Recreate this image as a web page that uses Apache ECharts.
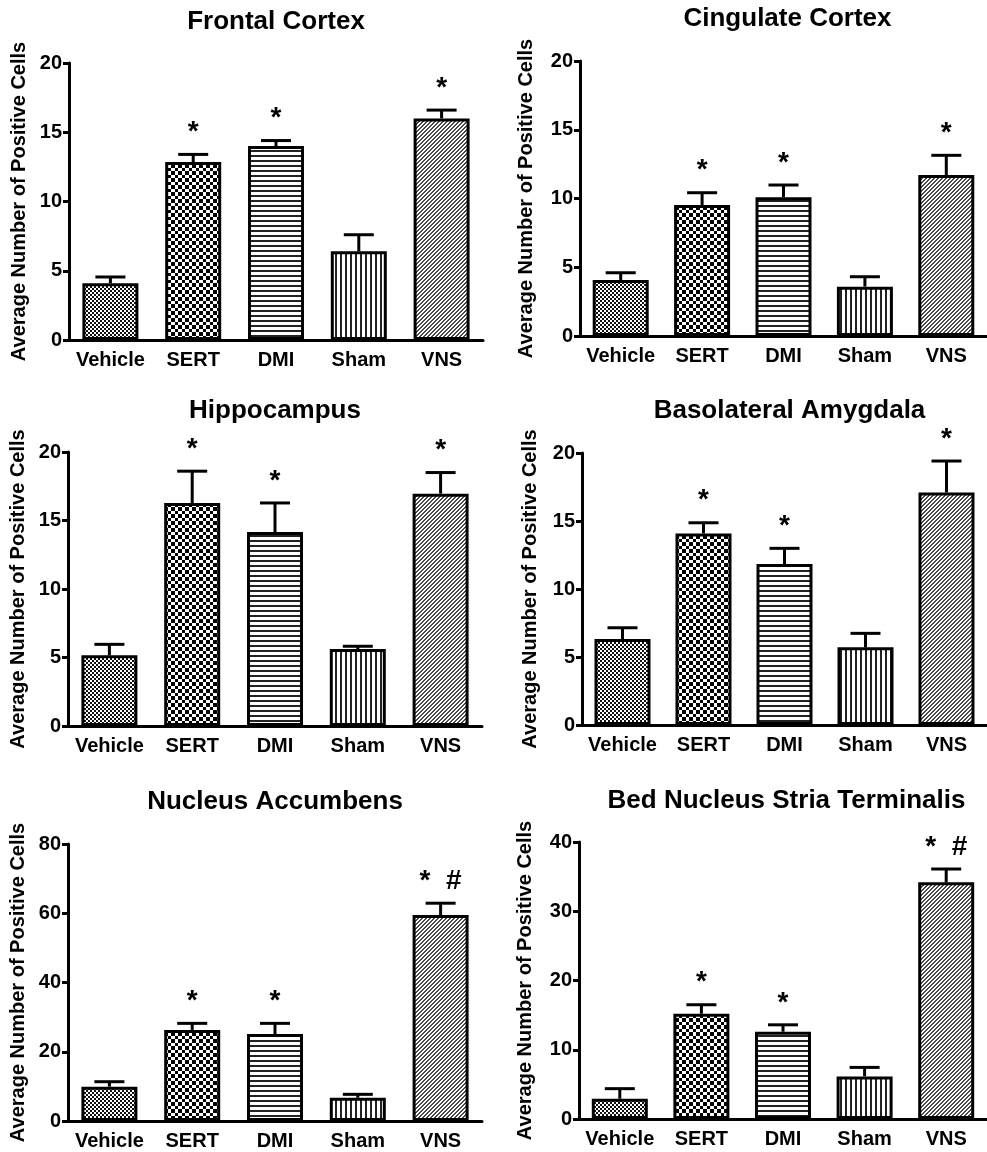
<!DOCTYPE html>
<html><head><meta charset="utf-8">
<script src="https://cdn.jsdelivr.net/npm/echarts@6/dist/echarts.min.js"></script>
<style>html,body{margin:0;padding:0;background:#fff}#c{width:987px;height:1152px}</style>
</head><body><div id="c"></div>
<script>
// ---- data ----
const categories = ['Vehicle', 'SERT', 'DMI', 'Sham', 'VNS'];
const panelTitles = ['Frontal Cortex', 'Cingulate Cortex', 'Hippocampus', 'Basolateral Amygdala', 'Nucleus Accumbens', 'Bed Nucleus Stria Terminalis'];
const yAxisName = 'Average Number of Positive Cells';

const frontalMean = [4.1, 12.85, 14.0, 6.4, 16.0];
const frontalSem  = [0.45, 0.55, 0.4, 1.2, 0.6];
const frontalSig  = ['', '*', '*', '', '*'];

const cingulateMean = [4.07, 9.53, 10.09, 3.59, 11.71];
const cingulateSem  = [0.53, 0.89, 0.89, 0.72, 1.43];
const cingulateSig  = ['', '*', '*', '', '*'];

const hippocampusMean = [5.16, 16.28, 14.16, 5.62, 16.96];
const hippocampusSem  = [0.8, 2.32, 2.12, 0.2, 1.54];
const hippocampusSig  = ['', '*', '*', '', '*'];

const basolateralMean = [6.32, 14.09, 11.84, 5.71, 17.1];
const basolateralSem  = [0.83, 0.78, 1.15, 1.03, 2.31];
const basolateralSig  = ['', '*', '*', '', '*'];

const accumbensMean = [9.9, 26.3, 25.1, 6.7, 59.5];
const accumbensSem  = [1.45, 1.9, 3.1, 1.0, 3.4];
const accumbensSig  = ['', '*', '*', '', '*  #'];

const bnstMean = [2.93, 15.2, 12.6, 6.15, 34.17];
const bnstSem  = [1.45, 1.3, 1.0, 1.3, 1.93];
const bnstSig  = ['', '*', '*', '', '*  #'];

const yMaxes = [20, 20, 20, 20, 80, 40];
const yIntervals = [5, 5, 5, 5, 20, 10];

// ---- layout / style ----
const panels = [
  {mean: frontalMean, sem: frontalSem, sig: frontalSig, grid: {left: 69, top: 63, width: 414, height: 277}, titleY: 8, nameGap: 40},
  {mean: cingulateMean, sem: cingulateSem, sig: cingulateSig, grid: {left: 580, top: 61, width: 415, height: 275}, titleY: 5, nameGap: 44},
  {mean: hippocampusMean, sem: hippocampusSem, sig: hippocampusSig, grid: {left: 68, top: 452, width: 414, height: 274}, titleY: 397, nameGap: 40},
  {mean: basolateralMean, sem: basolateralSem, sig: basolateralSig, grid: {left: 582, top: 453, width: 415, height: 272}, titleY: 397, nameGap: 42},
  {mean: accumbensMean, sem: accumbensSem, sig: accumbensSig, grid: {left: 68, top: 844, width: 414, height: 277}, titleY: 788, nameGap: 40},
  {mean: bnstMean, sem: bnstSem, sig: bnstSig, grid: {left: 579, top: 842, width: 415, height: 277}, titleY: 787, nameGap: 44}
];

const FONT = '"Liberation Sans", Arial, sans-serif';

function pattern(kind) {
  const c = document.createElement('canvas');
  const g = c.getContext('2d');
  if (kind === 'fine') {
    c.width = 4; c.height = 4;
    g.fillStyle = '#fff'; g.fillRect(0, 0, 4, 4);
    g.fillStyle = '#111'; g.fillRect(0, 0, 2, 2); g.fillRect(2, 2, 2, 2);
  } else if (kind === 'check') {
    c.width = 14; c.height = 14;
    g.fillStyle = '#fff'; g.fillRect(0, 0, 14, 14);
    g.fillStyle = '#000';
    const e = [0, 3, 7, 10, 14];
    for (let i = 0; i < 4; i++) for (let j = 0; j < 4; j++) {
      if ((i + j) % 2 === 0) g.fillRect(e[i], e[j], e[i + 1] - e[i], e[j + 1] - e[j]);
    }
  } else if (kind === 'h') {
    c.width = 5; c.height = 5;
    g.fillStyle = '#fff'; g.fillRect(0, 0, 5, 5);
    g.fillStyle = '#222'; g.fillRect(0, 0, 5, 2);
  } else if (kind === 'v') {
    c.width = 5; c.height = 5;
    g.fillStyle = '#fff'; g.fillRect(0, 0, 5, 5);
    g.fillStyle = '#222'; g.fillRect(0, 0, 2, 5);
  } else {
    c.width = 4; c.height = 4;
    g.fillStyle = '#fff'; g.fillRect(0, 0, 4, 4);
    g.fillStyle = '#4a4a4a';
    for (let i = 0; i < 4; i++) { g.fillRect(i, 3 - i, 1, 1); g.fillRect(i, (4 - i) % 4, 1, 1); }
  }
  return {image: c, repeat: 'repeat'};
}
const fills = [pattern('fine'), pattern('check'), pattern('h'), pattern('v'), pattern('d')];

const option = {
  backgroundColor: '#fff',
  animation: false,
  title: [], grid: [], xAxis: [], yAxis: [], series: []
};

panels.forEach((p, k) => {
  const cx = p.grid.left + p.grid.width / 2;
  option.title.push({
    text: panelTitles[k], left: cx, top: p.titleY, textAlign: 'center', padding: 0,
    textStyle: {fontFamily: FONT, fontWeight: 'bold', fontSize: 26, color: '#000', lineHeight: 28}
  });
  option.grid.push(Object.assign({containLabel: false}, p.grid));
  option.xAxis.push({
    type: 'category', gridIndex: k, data: categories,
    axisLine: {lineStyle: {color: '#000', width: 3}},
    axisTick: {alignWithLabel: true, length: 6, lineStyle: {color: '#000', width: 3}},
    axisLabel: {interval: 0, color: '#000', fontFamily: FONT, fontWeight: 'bold', fontSize: 20, margin: 10}
  });
  option.yAxis.push({
    type: 'value', gridIndex: k, min: 0, max: yMaxes[k], interval: yIntervals[k],
    name: yAxisName, nameLocation: 'middle', nameGap: p.nameGap,
    nameTextStyle: {color: '#000', fontFamily: FONT, fontWeight: 'bold', fontSize: 20},
    axisLine: {show: true, lineStyle: {color: '#000', width: 3}},
    axisTick: {show: true, length: 6, lineStyle: {color: '#000', width: 3}},
    splitLine: {show: false},
    axisLabel: {color: '#000', fontFamily: FONT, fontWeight: 'bold', fontSize: 20, margin: 7}
  });
  option.series.push({
    type: 'bar', xAxisIndex: k, yAxisIndex: k, barWidth: 56,
    data: p.mean.map((v, i) => ({value: v, itemStyle: {color: fills[i], borderColor: '#000', borderWidth: 3}})),
    z: 2
  });
  option.series.push({
    type: 'custom', xAxisIndex: k, yAxisIndex: k, z: 3,
    data: p.mean.map((v, i) => [i, v, v + p.sem[i]]),
    renderItem: (params, api) => {
      const a = api.coord([api.value(0), api.value(1)]);
      const b = api.coord([api.value(0), api.value(2)]);
      return {type: 'group', children: [
        {type: 'line', shape: {x1: a[0], y1: a[1], x2: b[0], y2: b[1]}, style: {stroke: '#000', lineWidth: 3}},
        {type: 'line', shape: {x1: b[0] - 15, y1: b[1], x2: b[0] + 15, y2: b[1]}, style: {stroke: '#000', lineWidth: 3}}
      ]};
    }
  });
  option.series.push({
    type: 'custom', xAxisIndex: k, yAxisIndex: k, z: 4, clip: false,
    data: p.mean.map((v, i) => [i, v + p.sem[i]]),
    renderItem: (params, api) => {
      const txt = p.sig[params.dataIndex];
      if (!txt) return null;
      const b = api.coord([api.value(0), api.value(1)]);
      return {type: 'text', x: b[0], y: b[1] - 22,
        style: {text: txt, fontSize: 28, fontWeight: 'bold', fontFamily: FONT, fill: '#000', align: 'center', verticalAlign: 'middle'}};
    }
  });
});

const chart = echarts.init(document.getElementById('c'), null, {renderer: 'canvas'});
chart.setOption(option);
</script>
</body></html>
